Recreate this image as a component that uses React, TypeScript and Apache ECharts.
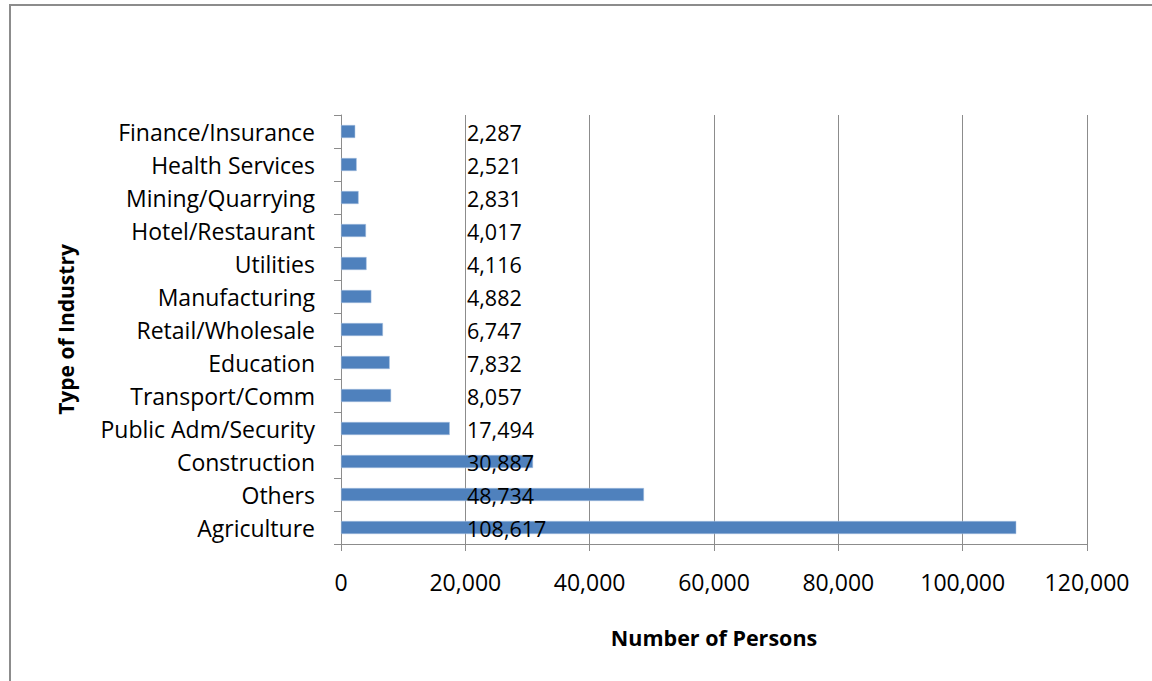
import React, { useEffect, useRef } from "react";
import * as echarts from "echarts";

const categories = [
  "Agriculture",
  "Others",
  "Construction",
  "Public Adm/Security",
  "Transport/Comm",
  "Education",
  "Retail/Wholesale",
  "Manufacturing",
  "Utilities",
  "Hotel/Restaurant",
  "Mining/Quarrying",
  "Health Services",
  "Finance/Insurance",
];
const persons = [108617, 48734, 30887, 17494, 8057, 7832, 6747, 4882, 4116, 4017, 2831, 2521, 2287];
const xTicks = { min: 0, max: 120000, interval: 20000 };

const FONT = "'Open Sans', 'Noto Sans', sans-serif";

export default function App() {
  const ref = useRef<HTMLDivElement>(null);
  useEffect(() => {
    document.body.style.margin = "0";
    const chart = echarts.init(ref.current!, null, { renderer: "svg" });
    const fmt = (v: number) => v.toLocaleString("en-US");
    chart.setOption({
      animation: false,
      backgroundColor: "#ffffff",
      textStyle: { fontFamily: FONT },
      graphic: [
        {
          type: "rect",
          shape: { x: 10, y: 5, width: 1300, height: 800 },
          style: { fill: "none", stroke: "#8c8c8c", lineWidth: 2 },
          silent: true,
        },
      ],
      grid: { left: 341, right: 65, top: 115, bottom: 137, containLabel: false },
      xAxis: {
        type: "value",
        min: xTicks.min,
        max: xTicks.max,
        interval: xTicks.interval,
        name: "Number of Persons",
        nameLocation: "middle",
        nameGap: 82,
        nameTextStyle: { fontFamily: FONT, fontSize: 21.5, fontWeight: "bold", color: "#000" },
        axisLine: { show: true, lineStyle: { color: "#8c8c8c", width: 1 } },
        axisTick: { show: true, length: 7, lineStyle: { color: "#8c8c8c" } },
        axisLabel: {
          fontFamily: FONT,
          fontSize: 23,
          color: "#000",
          margin: 26,
          formatter: (v: number) => fmt(v),
        },
        splitLine: { show: true, lineStyle: { color: "#8c8c8c", width: 1 } },
      },
      yAxis: {
        type: "category",
        data: categories,
        name: "Type of Industry",
        nameLocation: "middle",
        nameGap: 265,
        nameRotate: 90,
        nameTextStyle: { fontFamily: FONT, fontSize: 21, fontWeight: "bold", color: "#000" },
        axisLine: { show: true, lineStyle: { color: "#8c8c8c", width: 1 } },
        axisTick: { show: true, length: 7, lineStyle: { color: "#8c8c8c" } },
        axisLabel: { fontFamily: FONT, fontSize: 23, color: "#000", margin: 26 },
      },
      series: [
        {
          type: "bar",
          data: persons,
          barWidth: 13,
          itemStyle: { color: "#4f81bd", borderColor: "#a9c2e3", borderWidth: 0.5 },
          label: {
            show: true,
            position: [126, "50%"],
            align: "left",
            verticalAlign: "middle",
            fontFamily: FONT,
            fontSize: 21.5,
            color: "#000",
            offset: [0, 1],
            formatter: (p: any) => fmt(p.value),
          },
        },
      ],
    });
    return () => chart.dispose();
  }, []);
  return <div ref={ref} style={{ width: 1152, height: 681 }} />;
}
